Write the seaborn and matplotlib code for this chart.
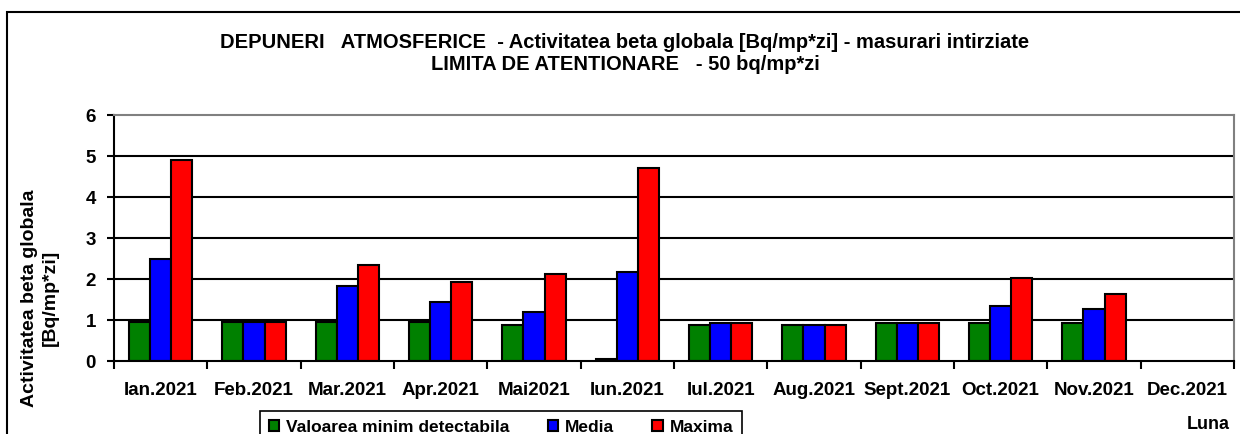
import numpy as np
import pandas as pd
import seaborn as sns
import matplotlib.pyplot as plt
from matplotlib.patches import Rectangle
from matplotlib.ticker import FixedLocator

luni = ['Ian.2021', 'Feb.2021', 'Mar.2021', 'Apr.2021', 'Mai2021', 'Iun.2021',
        'Iul.2021', 'Aug.2021', 'Sept.2021', 'Oct.2021', 'Nov.2021', 'Dec.2021']
minim_detectabila = [0.95, 0.95, 0.95, 0.95, 0.89, 0.05, 0.88, 0.88, 0.93, 0.93, 0.93, np.nan]
media = [2.48, 0.95, 1.84, 1.44, 1.19, 2.18, 0.93, 0.88, 0.93, 1.33, 1.28, np.nan]
maxima = [4.9, 0.95, 2.33, 1.93, 2.13, 4.71, 0.93, 0.88, 0.93, 2.02, 1.63, np.nan]
serii = ['Valoarea minim detectabila', 'Media', 'Maxima']
culori = ['#008000', '#0000ff', '#ff0000']

df = pd.DataFrame({'Luna': luni, serii[0]: minim_detectabila, serii[1]: media, serii[2]: maxima})
df_long = df.melt(id_vars='Luna', var_name='Serie', value_name='Valoare')

sns.set_style('white')
plt.rcParams['font.family'] = ['Liberation Sans', 'DejaVu Sans']
plt.rcParams['font.weight'] = 'bold'
plt.rcParams['text.color'] = 'black'
plt.rcParams['xtick.color'] = 'black'
plt.rcParams['ytick.color'] = 'black'
plt.rcParams['axes.labelcolor'] = 'black'

fig = plt.figure(figsize=(12.4, 4.35), dpi=100)
ax = fig.add_axes([114 / 1240, 1 - 362 / 435, (1234 - 114) / 1240, (362 - 116) / 435])

# gridlines behind the bars
for yv in range(1, 6):
    ax.axhline(yv, color='black', lw=1.5, zorder=0)

sns.barplot(data=df_long, x='Luna', y='Valoare', hue='Serie', order=luni, hue_order=serii,
            palette=culori, saturation=1, edgecolor='black', linewidth=1.5, width=0.68,
            errorbar=None, ax=ax, zorder=2, legend=True)

ax.set_ylim(0, 6)
ax.set_xlim(-0.5, len(luni) - 0.5)
ax.set_yticks(range(0, 7))
ax.tick_params(axis='y', which='major', left=True, length=5, width=1.5, labelsize=13.5, pad=8)
ax.tick_params(axis='x', which='major', bottom=False, labelsize=13.5, pad=11)
ax.xaxis.set_minor_locator(FixedLocator(np.arange(-0.5, len(luni), 1.0)))
ax.tick_params(axis='x', which='minor', bottom=True, length=6, width=1.5, color='black')
for lbl in ax.get_xticklabels() + ax.get_yticklabels():
    lbl.set_fontweight('bold')
ax.set_xlabel('')
ax.set_ylabel('')

for side in ['top', 'right']:
    ax.spines[side].set_color('#808080')
    ax.spines[side].set_linewidth(1.5)
for side in ['left', 'bottom']:
    ax.spines[side].set_color('black')
    ax.spines[side].set_linewidth(1.5)

# outer chart border
fig.patches.append(Rectangle((7 / 1240, -0.1), 1.1, 1 - 13 / 435 + 0.1, transform=fig.transFigure,
                             fill=False, edgecolor='black', lw=1.5))

fig.text(625 / 1240, 1 - 42 / 435,
         'DEPUNERI   ATMOSFERICE  - Activitatea beta globala [Bq/mp*zi] - masurari intirziate',
         ha='center', va='center', fontsize=14.5, fontweight='bold')
fig.text(625 / 1240, 1 - 65 / 435, 'LIMITA DE ATENTIONARE   - 50 bq/mp*zi',
         ha='center', va='center', fontsize=14.5, fontweight='bold')

fig.text(40 / 1240, 1 - 298 / 435, 'Activitatea beta globala\n[Bq/mp*zi]', rotation=90,
         ha='center', va='center', multialignment='center', fontsize=14, fontweight='bold',
         linespacing=1.25)
fig.text(1208 / 1240, 1 - 425 / 435, 'Luna', ha='center', va='center', fontsize=13, fontweight='bold')

handles, labels = ax.get_legend_handles_labels()
ax.get_legend().remove()
leg = fig.legend(handles, labels, loc='upper center', bbox_to_anchor=(501 / 1240, 1 - 403 / 435),
                 ncol=3, frameon=True, fancybox=False, edgecolor='black', framealpha=1,
                 handlelength=0.6, handleheight=0.6, handletextpad=0.4, columnspacing=2.2,
                 borderpad=0.5, prop={'size': 12.5, 'weight': 'bold'})
leg.get_frame().set_linewidth(1.2)

fig.savefig('out.png', dpi=100)
